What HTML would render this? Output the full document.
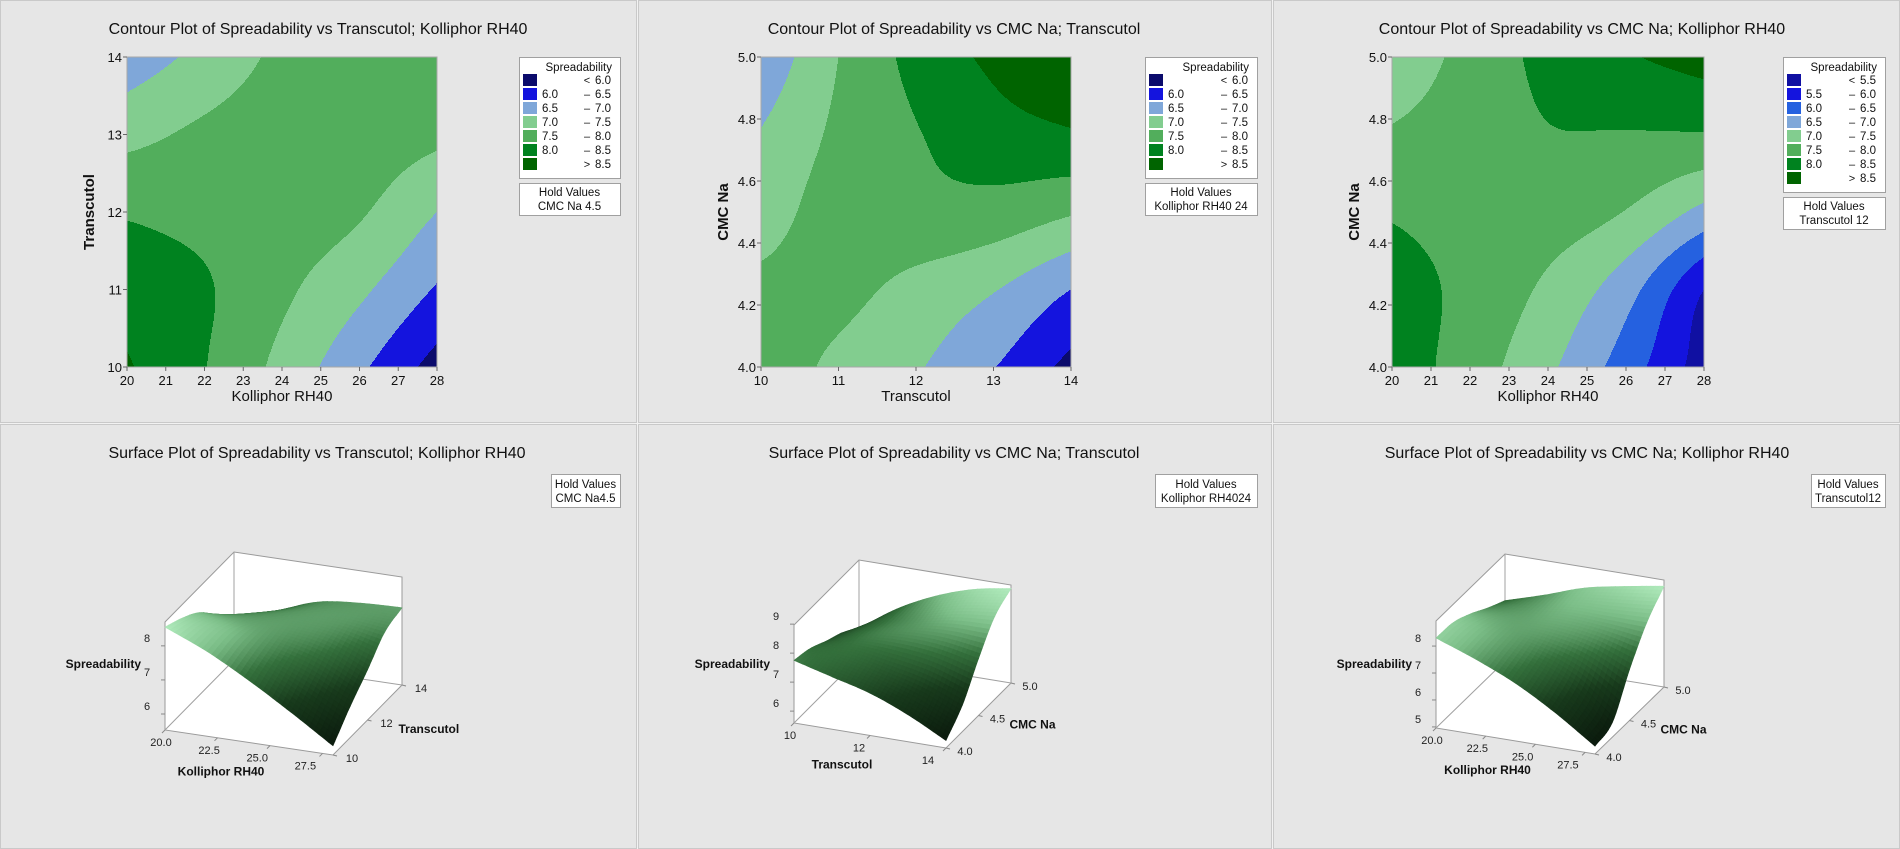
<!DOCTYPE html>
<html><head><meta charset="utf-8">
<style>
html,body{margin:0;padding:0;background:#f2f2f2;}
svg{display:block;font-family:"Liberation Sans",Arial,sans-serif;}
</style></head>
<body>
<svg id="root" width="1900" height="849" viewBox="0 0 1900 849" xmlns="http://www.w3.org/2000/svg"></svg>
<script>
// ---------- DATA ----------
const p1XTicks = [20,21,22,23,24,25,26,27,28];
const p1YTicks = [10,11,12,13,14];
const p1Values = [
  [8.55,8.02,7.35,6.60,5.80],
  [8.30,8.05,7.60,7.10,6.45],
  [7.95,7.85,7.75,7.55,7.00],
  [7.35,7.60,7.75,7.75,7.60],
  [6.70,7.15,7.60,7.75,7.80]
];
const p2XTicks = [10,11,12,13,14];
const p2YTicks = [4.0,4.2,4.4,4.6,4.8,5.0];
const p2Values = [
  [7.75,7.40,7.05,6.52,5.85],
  [7.60,7.62,7.35,7.03,6.50],
  [7.30,7.70,7.85,7.80,7.55],
  [7.03,7.60,7.97,8.30,8.45],
  [6.60,7.50,8.15,8.60,8.85]
];
const p3XTicks = [20,21,22,23,24,25,26,27,28];
const p3YTicks = [4.0,4.2,4.4,4.6,4.8,5.0];
const p3Values = [
  [8.30,7.75,7.10,6.25,5.25],
  [8.25,7.85,7.40,6.70,5.50],
  [7.95,7.80,7.75,7.48,6.85],
  [7.55,7.72,7.97,7.97,7.97],
  [7.20,7.65,8.15,8.45,8.70]
];
const levelsA = [6.0,6.5,7.0,7.5,8.0,8.5];
const levelsB = [5.5,6.0,6.5,7.0,7.5,8.0,8.5];
const s1FrontTicks = ["20.0","22.5","25.0","27.5"];
const s1FrontVals = [20,22.5,25,27.5];
const s1SideTicks = [10,12,14];
const s1ZTicks = [6,7,8];
const s2FrontTicks = ["10","12","14"];
const s2FrontVals = [10,12,14];
const s2SideTicks = [4.0,4.5,5.0];
const s2ZTicks = [6,7,8,9];
const s3FrontTicks = ["20.0","22.5","25.0","27.5"];
const s3FrontVals = [20,22.5,25,27.5];
const s3SideTicks = [4.0,4.5,5.0];
const s3ZTicks = [5,6,7,8];

// ---------- STYLE ----------
const colorsA = ["#0b0b6c","#1414de","#7fa7d9","#82cd8f","#52ae5c","#00821f","#006400"];
const colorsB = ["#1010a2","#1414de","#2561e0","#7fa7d9","#82cd8f","#52ae5c","#00821f","#006400"];
const NS = "http://www.w3.org/2000/svg";
const root = document.getElementById('root');
function mk(tag, attrs, parent){
  const e = document.createElementNS(NS, tag);
  for (const k in attrs) e.setAttribute(k, attrs[k]);
  (parent||root).appendChild(e);
  return e;
}
function txt(str, attrs, parent){ const t = mk('text', attrs, parent); t.textContent = str; return t; }

const panelRects = [[0,0,637,423],[638,0,634,423],[1273,0,627,423],[0,424,637,425],[638,424,634,425],[1273,424,627,425]];
panelRects.forEach((r,i)=>{
  const p = mk('rect',{x:r[0]+0.5,y:r[1]+0.5,width:r[2]-1,height:r[3]-1,fill:"#e6e6e6",stroke:"#c9c9c9","stroke-width":1});
  
  
});

function cr(p0,p1,p2,p3,t){
  return 0.5*((2*p1)+(-p0+p2)*t+(2*p0-5*p1+4*p2-p3)*t*t+(-p0+3*p1-3*p2+p3)*t*t*t);
}
function gget(g,i,j){
  const n=g.length, m=g[0].length;
  if (i<0) return 2*gget(g,0,j)-gget(g,1,j);
  if (i>=n) return 2*gget(g,n-1,j)-gget(g,n-2,j);
  if (j<0) return 2*g[i][0]-g[i][1];
  if (j>=m) return 2*g[i][m-1]-g[i][m-2];
  return g[i][j];
}
function interp(g,gx,gy){
  const n=g.length, m=g[0].length;
  let j=Math.floor(gx), i=Math.floor(gy);
  if (j>=m-1) j=m-2; if (i>=n-1) i=n-2; if(j<0)j=0; if(i<0)i=0;
  const tx=gx-j, ty=gy-i;
  const rows=[];
  for(let a=-1;a<=2;a++){
    rows.push(cr(gget(g,i+a,j-1),gget(g,i+a,j),gget(g,i+a,j+1),gget(g,i+a,j+2),tx));
  }
  return cr(rows[0],rows[1],rows[2],rows[3],ty);
}
function levelIndex(v,levels){ let k=0; while(k<levels.length && v>=levels[k]) k++; return k; }

// ---------- CONTOUR PANELS ----------
const contours = [
 {id:'c1',title:"Contour Plot of Spreadability vs Transcutol; Kolliphor RH40",tx:318,grid:p1Values,xt:p1XTicks,yt:p1YTicks,dec:0,x0:127,y0:57,w:310,h:310,
  xlab:"Kolliphor RH40",ylab:"Transcutol",levels:levelsA,colors:colorsA,lx:519,lw:101,hold:"CMC Na  4.5"},
 {id:'c2',title:"Contour Plot of Spreadability vs CMC Na; Transcutol",tx:954,grid:p2Values,xt:p2XTicks,yt:p2YTicks,dec:1,x0:761,y0:57,w:310,h:310,
  xlab:"Transcutol",ylab:"CMC Na",levels:levelsA,colors:colorsA,lx:1145,lw:112,hold:"Kolliphor RH40  24"},
 {id:'c3',title:"Contour Plot of Spreadability vs CMC Na; Kolliphor RH40",tx:1582,grid:p3Values,xt:p3XTicks,yt:p3YTicks,dec:1,x0:1392,y0:57,w:312,h:310,
  xlab:"Kolliphor RH40",ylab:"CMC Na",levels:levelsB,colors:colorsB,lx:1783,lw:102,hold:"Transcutol 12"}
];

contours.forEach(c=>{
  const xMin=c.xt[0], xMax=c.xt[c.xt.length-1], yMin=c.yt[0], yMax=c.yt[c.yt.length-1];
  const sx = v => c.x0 + (v-xMin)/(xMax-xMin)*c.w;
  const sy = v => c.y0 + c.h - (v-yMin)/(yMax-yMin)*c.h;
  const t = txt(c.title,{x:c.tx,y:34,"text-anchor":"middle","font-size":16,fill:"#111"});
  
  
  const g = mk('g',{});
  
  
  const cols=c.grid[0].length, rws=c.grid.length;
  for(let py=0;py<c.h;py++){
    const yv = yMax-(py+0.5)/c.h*(yMax-yMin);
    const gy = (yv-yMin)/(yMax-yMin)*(rws-1);
    let start=0, cur=-1;
    for(let px=0;px<=c.w;px++){
      let k=-2;
      if(px<c.w){
        const xv = xMin+(px+0.5)/c.w*(xMax-xMin);
        const gx = (xv-xMin)/(xMax-xMin)*(cols-1);
        k = levelIndex(interp(c.grid,gx,gy),c.levels);
      }
      if(k!==cur){
        if(cur>=0){
          const r = mk('rect',{x:c.x0+start,y:c.y0+py,width:px-start,height:1.05,fill:c.colors[cur]},g);
          
          
        }
        cur=k; start=px;
      }
    }
  }
  const fr = mk('rect',{x:c.x0,y:c.y0,width:c.w,height:c.h,fill:"none",stroke:"#a8a8a8","stroke-width":1});
  
  
  c.xt.forEach(v=>{
    mk('line',{x1:sx(v),x2:sx(v),y1:c.y0+c.h,y2:c.y0+c.h+4,stroke:"#666"});
    const l = txt(String(v),{x:sx(v),y:c.y0+c.h+18,"text-anchor":"middle","font-size":13,fill:"#111"});
    
    
  });
  c.yt.forEach(v=>{
    mk('line',{x1:c.x0-4,x2:c.x0,y1:sy(v),y2:sy(v),stroke:"#666"});
    const l = txt(v.toFixed(c.dec),{x:c.x0-5,y:sy(v)+5,"text-anchor":"end","font-size":13,fill:"#111"});
    
    
  });
  const xl = txt(c.xlab,{x:c.x0+c.w/2,y:401,"text-anchor":"middle","font-size":15,fill:"#111"});
  
  
  const ycx = c.x0-33, ycy=c.y0+c.h/2;
  const yl = txt(c.ylab,{x:ycx,y:ycy,"text-anchor":"middle","font-size":15,"font-weight":"bold",fill:"#111",transform:`rotate(-90 ${ycx} ${ycy})`});
  
  
  const n = c.colors.length;
  const lh = 23 + n*14;
  const lg = mk('g',{});
  
  
  mk('rect',{x:c.lx+0.5,y:57.5,width:c.lw,height:lh,fill:"#fff",stroke:"#a0a0a0"},lg);
  txt("Spreadability",{x:c.lx+c.lw-8,y:71,"text-anchor":"end","font-size":11.5,fill:"#111"},lg);
  for(let i=0;i<n;i++){
    const cy = 80+14*i;
    const sw = mk('rect',{x:c.lx+4,y:cy-6,width:14,height:12,fill:c.colors[i]},lg);
    
    
    const rx = c.lx+c.lw-9;
    if(i===0){
      txt("<",{x:rx-24,y:cy+4,"text-anchor":"middle","font-size":11,fill:"#111"},lg);
      txt(c.levels[0].toFixed(1),{x:rx,y:cy+4,"text-anchor":"end","font-size":11.5,fill:"#111"},lg);
    } else if(i===n-1){
      txt(">",{x:rx-24,y:cy+4,"text-anchor":"middle","font-size":11,fill:"#111"},lg);
      txt(c.levels[n-2].toFixed(1),{x:rx,y:cy+4,"text-anchor":"end","font-size":11.5,fill:"#111"},lg);
    } else {
      txt(c.levels[i-1].toFixed(1),{x:c.lx+23,y:cy+4,"font-size":11.5,fill:"#111"},lg);
      txt("–",{x:rx-24,y:cy+4,"text-anchor":"middle","font-size":11,fill:"#111"},lg);
      txt(c.levels[i].toFixed(1),{x:rx,y:cy+4,"text-anchor":"end","font-size":11.5,fill:"#111"},lg);
    }
  }
  const hy = 57+lh+5;
  const hg = mk('g',{});
  
  
  mk('rect',{x:c.lx+0.5,y:hy+0.5,width:c.lw,height:32,fill:"#fff",stroke:"#a0a0a0"},hg);
  txt("Hold Values",{x:c.lx+c.lw/2,y:hy+13,"text-anchor":"middle","font-size":11.5,fill:"#111"},hg);
  txt(c.hold,{x:c.lx+c.lw/2,y:hy+27,"text-anchor":"middle","font-size":11.5,fill:"#111"},hg);
});

// ---------- SURFACE PANELS ----------
const surfaces = [
 {id:'s1',title:"Surface Plot of Spreadability vs Transcutol; Kolliphor RH40",tx:317,grid:p1Values,
  A:[165,730],B:[333,755],C:[402,685],H:108,zMin:5.53,zMax:8.7,fx:[20,28],fv:s1FrontVals,fl:s1FrontTicks,
  sv:s1SideTicks,sr:[10,14],sdec:0,zt:s1ZTicks,flab:"Kolliphor RH40",slab:"Transcutol",hx:551,hw:69,hold:"CMC Na4.5"},
 {id:'s2',title:"Surface Plot of Spreadability vs CMC Na; Transcutol",tx:954,grid:p2Values,
  A:[794,723],B:[946,748],C:[1011,683],H:98,zMin:5.59,zMax:8.97,fx:[10,14],fv:s2FrontVals,fl:s2FrontTicks,
  sv:s2SideTicks,sr:[4,5],sdec:1,zt:s2ZTicks,flab:"Transcutol",slab:"CMC Na",hx:1155,hw:102,hold:"Kolliphor RH4024"},
 {id:'s3',title:"Surface Plot of Spreadability vs CMC Na; Kolliphor RH40",tx:1587,grid:p3Values,
  A:[1436,728],B:[1595,754],C:[1664,687],H:107,zMin:4.96,zMax:8.93,fx:[20,28],fv:s3FrontVals,fl:s3FrontTicks,
  sv:s3SideTicks,sr:[4,5],sdec:1,zt:s3ZTicks,flab:"Kolliphor RH40",slab:"CMC Na",hx:1811,hw:74,hold:"Transcutol12"}
];
const stops=[[0,[11,26,13]],[0.35,[24,58,28]],[0.6,[52,112,60]],[0.8,[124,190,136]],[1,[178,236,190]]];
function shade(t){
  t=Math.max(0,Math.min(1,t));
  for(let i=1;i<stops.length;i++){
    if(t<=stops[i][0]){
      const a=stops[i-1],b=stops[i],f=(t-a[0])/(b[0]-a[0]);
      const c=a[1].map((v,k)=>Math.round(v+(b[1][k]-v)*f));
      return `rgb(${c[0]},${c[1]},${c[2]})`;
    }
  }
  return 'rgb(178,236,190)';
}
surfaces.forEach(s=>{
  const [A,B,C]=[s.A,s.B,s.C];
  const D=[A[0]+C[0]-B[0],A[1]+C[1]-B[1]];
  const P=(u,v,z)=>[A[0]+u*(B[0]-A[0])+v*(C[0]-B[0]), A[1]+u*(B[1]-A[1])+v*(C[1]-B[1])-(z-s.zMin)/(s.zMax-s.zMin)*s.H];
  const t = txt(s.title,{x:s.tx,y:458,"text-anchor":"middle","font-size":16,fill:"#111"});
  
  
  const hg = mk('g',{});
  
  
  mk('rect',{x:s.hx+0.5,y:474.5,width:s.hw,height:33,fill:"#fff",stroke:"#a0a0a0"},hg);
  txt("Hold Values",{x:s.hx+s.hw/2,y:488,"text-anchor":"middle","font-size":11.5,fill:"#111"},hg);
  txt(s.hold,{x:s.hx+s.hw/2,y:502,"text-anchor":"middle","font-size":11.5,fill:"#111"},hg);
  const top=(p)=>[p[0],p[1]-s.H];
  const hex=[top(A),top(D),top(C),C,B,A];
  const bx = mk('polygon',{points:hex.map(p=>p.join(',')).join(' '),fill:"#fff",stroke:"#9a9a9a","stroke-width":1});
  
  
  [[D,top(D)],[D,A],[D,C]].forEach(l=>mk('line',{x1:l[0][0],y1:l[0][1],x2:l[1][0],y2:l[1][1],stroke:"#a0a0a0"}));
  const N=36, grid=s.grid, rws=grid.length, cols=grid[0].length;
  const Z=[];
  for(let i=0;i<=N;i++){Z.push([]);for(let j=0;j<=N;j++){Z[i].push(interp(grid,j/N*(cols-1),i/N*(rws-1)));}}
  let zlo=Infinity,zhi=-Infinity; grid.forEach(r=>r.forEach(v=>{zlo=Math.min(zlo,v);zhi=Math.max(zhi,v);}));
  const quads=[];
  for(let i=0;i<N;i++)for(let j=0;j<N;j++){
    const u0=j/N,u1=(j+1)/N,v0=i/N,v1=(i+1)/N;
    const zc=(Z[i][j]+Z[i][j+1]+Z[i+1][j]+Z[i+1][j+1])/4;
    const pts=[P(u0,v0,Z[i][j]),P(u1,v0,Z[i][j+1]),P(u1,v1,Z[i+1][j+1]),P(u0,v1,Z[i+1][j])];
    const depth=(u0+u1)/2*(B[1]-A[1])+(v0+v1)/2*(C[1]-B[1]);
    quads.push({pts,zc,depth});
  }
  quads.sort((a,b)=>a.depth-b.depth);
  const sg = mk('g',{});
  
  
  quads.forEach(q=>{
    const col=shade((q.zc-zlo)/(zhi-zlo));
    const pg = mk('polygon',{points:q.pts.map(p=>p[0].toFixed(1)+','+p[1].toFixed(1)).join(' '),fill:col,stroke:col,"stroke-width":0.6},sg);
    
    
  });
  s.zt.forEach(z=>{
    const y=A[1]-(z-s.zMin)/(s.zMax-s.zMin)*s.H;
    mk('line',{x1:A[0]-4,x2:A[0],y1:y,y2:y,stroke:"#888"});
    const l=txt(String(z),{x:A[0]-18,y:y-4,"text-anchor":"middle","font-size":11,fill:"#222"});
    
    
  });
  s.fv.forEach((v,k)=>{
    const u=(v-s.fx[0])/(s.fx[1]-s.fx[0]);
    const p=[A[0]+u*(B[0]-A[0]),A[1]+u*(B[1]-A[1])];
    mk('line',{x1:p[0],y1:p[1],x2:p[0]-3,y2:p[1]+3,stroke:"#888"});
    const l=txt(s.fl[k],{x:p[0]-4-14*u,y:p[1]+16,"text-anchor":"middle","font-size":11,fill:"#222"});
    
    
  });
  s.sv.forEach(v=>{
    const w=(v-s.sr[0])/(s.sr[1]-s.sr[0]);
    const p=[B[0]+w*(C[0]-B[0]),B[1]+w*(C[1]-B[1])];
    mk('line',{x1:p[0],y1:p[1],x2:p[0]+4,y2:p[1]+1,stroke:"#888"});
    const l=txt(v.toFixed(s.sdec),{x:p[0]+19,y:p[1]+7,"text-anchor":"middle","font-size":11,fill:"#222"});
    
    
  });
  const fm=[(A[0]+B[0])/2,(A[1]+B[1])/2];
  const fl=txt(s.flab,{x:fm[0]-28,y:fm[1]+33,"text-anchor":"middle","font-size":12,"font-weight":"bold",fill:"#111"});
  
  
  const sm=[(B[0]+C[0])/2,(B[1]+C[1])/2];
  const sl=txt(s.slab,{x:sm[0]+31,y:sm[1]+13,"font-size":12,"font-weight":"bold",fill:"#111"});
  
  
  const zl=txt("Spreadability",{x:A[0]-24,y:668,"text-anchor":"end","font-size":12,"font-weight":"bold",fill:"#111"});
  
  
});
</script>
</body></html>
